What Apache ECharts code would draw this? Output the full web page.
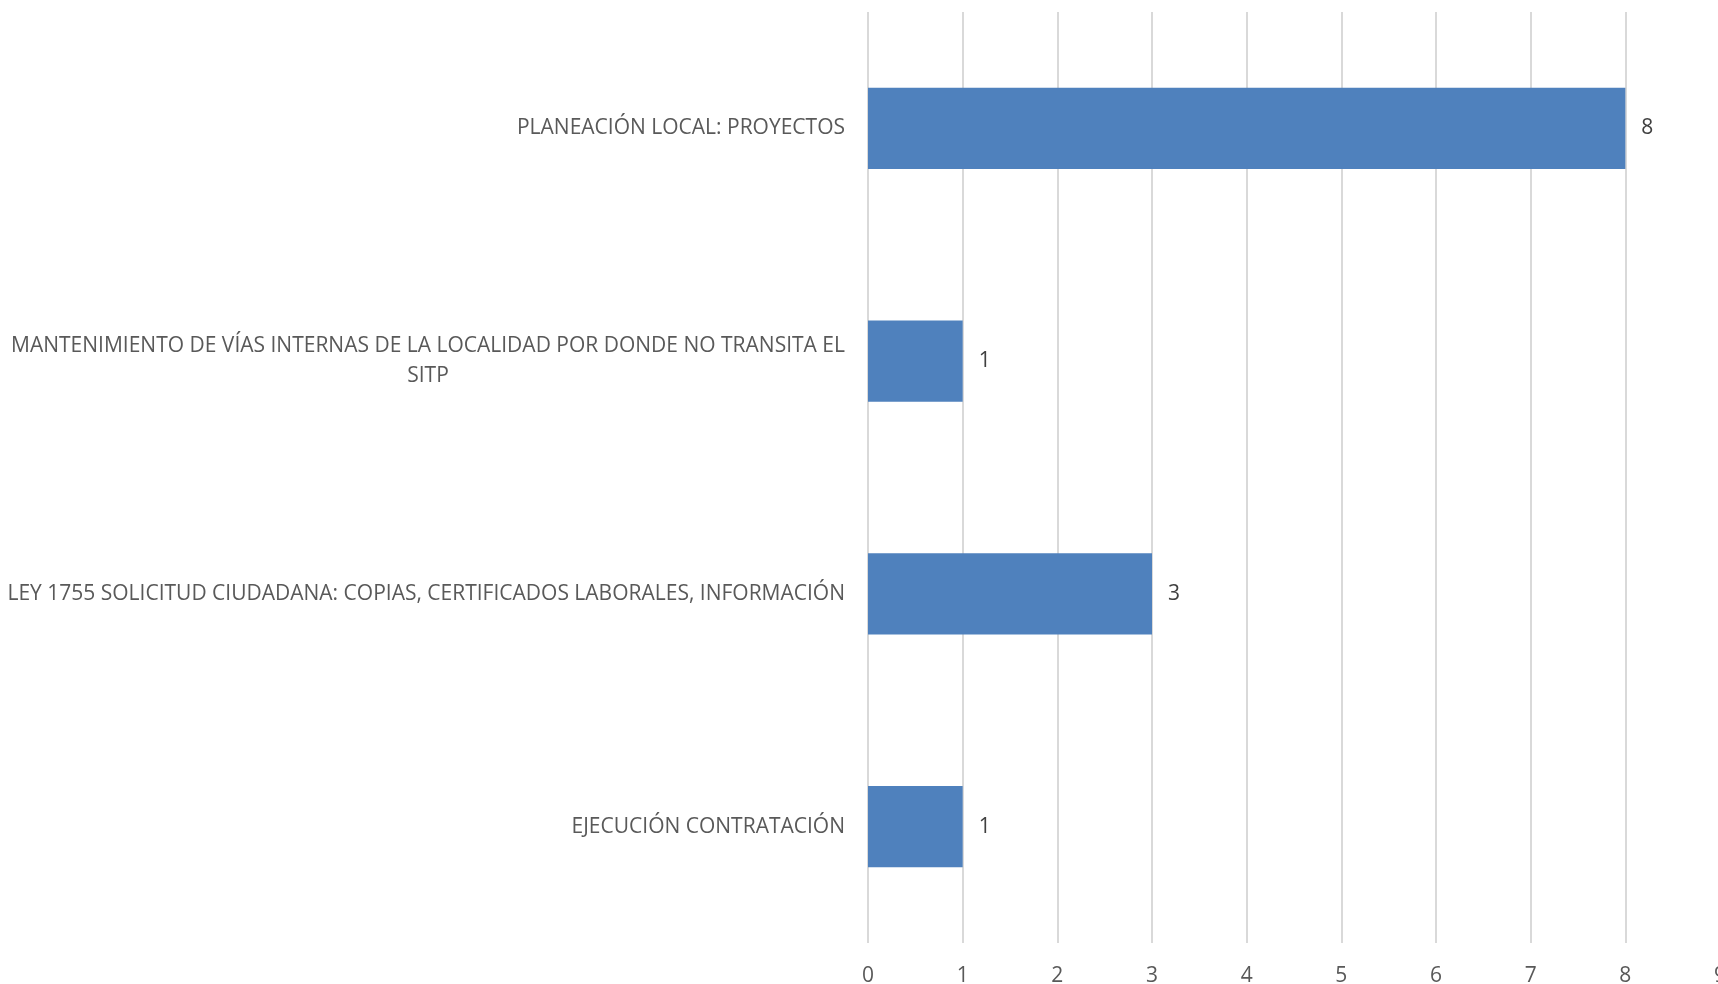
<!DOCTYPE html>
<html>
<head>
<meta charset="utf-8">
<script src="https://cdn.jsdelivr.net/npm/echarts@6/dist/echarts.min.js"></script>
<style>
html,body{margin:0;padding:0;background:#fff;overflow:hidden;}
#c{width:1718px;height:984px;}
</style>
</head>
<body>
<div id="c"></div>
<script>
// Categories listed top to bottom
const categories = [
  "PLANEACIÓN LOCAL: PROYECTOS",
  "MANTENIMIENTO DE VÍAS INTERNAS DE LA LOCALIDAD POR DONDE NO TRANSITA EL\nSITP",
  "LEY 1755 SOLICITUD CIUDADANA: COPIAS, CERTIFICADOS LABORALES, INFORMACIÓN",
  "EJECUCIÓN CONTRATACIÓN"
];
const values = [8, 1, 3, 1];
const xTicks = [0, 1, 2, 3, 4, 5, 6, 7, 8, 9];

const FONT = '"Open Sans", "Liberation Sans", sans-serif';
const FS = 21;
const LH = 30;

// measure line width for centered multi-line labels
const cv = document.createElement('canvas').getContext('2d');
cv.font = FS + 'px ' + FONT;
function lineW(s){ return Math.ceil(cv.measureText(s).width); }
const wrapW = Math.max.apply(null, categories[1].split('\n').map(lineW));

const chart = echarts.init(document.getElementById('c'), null, {renderer: 'canvas'});
chart.setOption({
  backgroundColor: '#fff',
  animation: false,
  grid: {left: 868, width: 852, top: 12, bottom: 41, containLabel: false, outerBoundsMode: 'none'},
  xAxis: {
    type: 'value', min: xTicks[0], max: xTicks[xTicks.length-1], interval: 1,
    axisLine: {show: false}, axisTick: {show: false},
    splitLine: {show: true, lineStyle: {color: '#D9D9D9', width: 2}},
    axisLabel: {color: '#595959', fontFamily: FONT, fontSize: FS, margin: 23}
  },
  yAxis: {
    type: 'category', inverse: true, data: categories,
    axisLine: {show: false}, axisTick: {show: false},
    axisLabel: {
      color: '#595959', fontFamily: FONT, fontSize: FS, margin: 23, align: 'right', lineHeight: LH,
      formatter: function(v){
        const lines = v.split('\n');
        if (lines.length === 1) return v;
        return lines.map(l => '{c|' + l + '}').join('\n');
      },
      rich: {c: {width: wrapW, align: 'center', color: '#595959', fontFamily: FONT, fontSize: FS, lineHeight: LH}}
    }
  },
  series: [{
    type: 'bar', data: values, barWidth: '35%',
    itemStyle: {color: '#4F81BD'},
    label: {show: true, position: 'right', distance: 16, color: '#404040', fontFamily: FONT, fontSize: FS}
  }]
});
</script>
</body>
</html>
